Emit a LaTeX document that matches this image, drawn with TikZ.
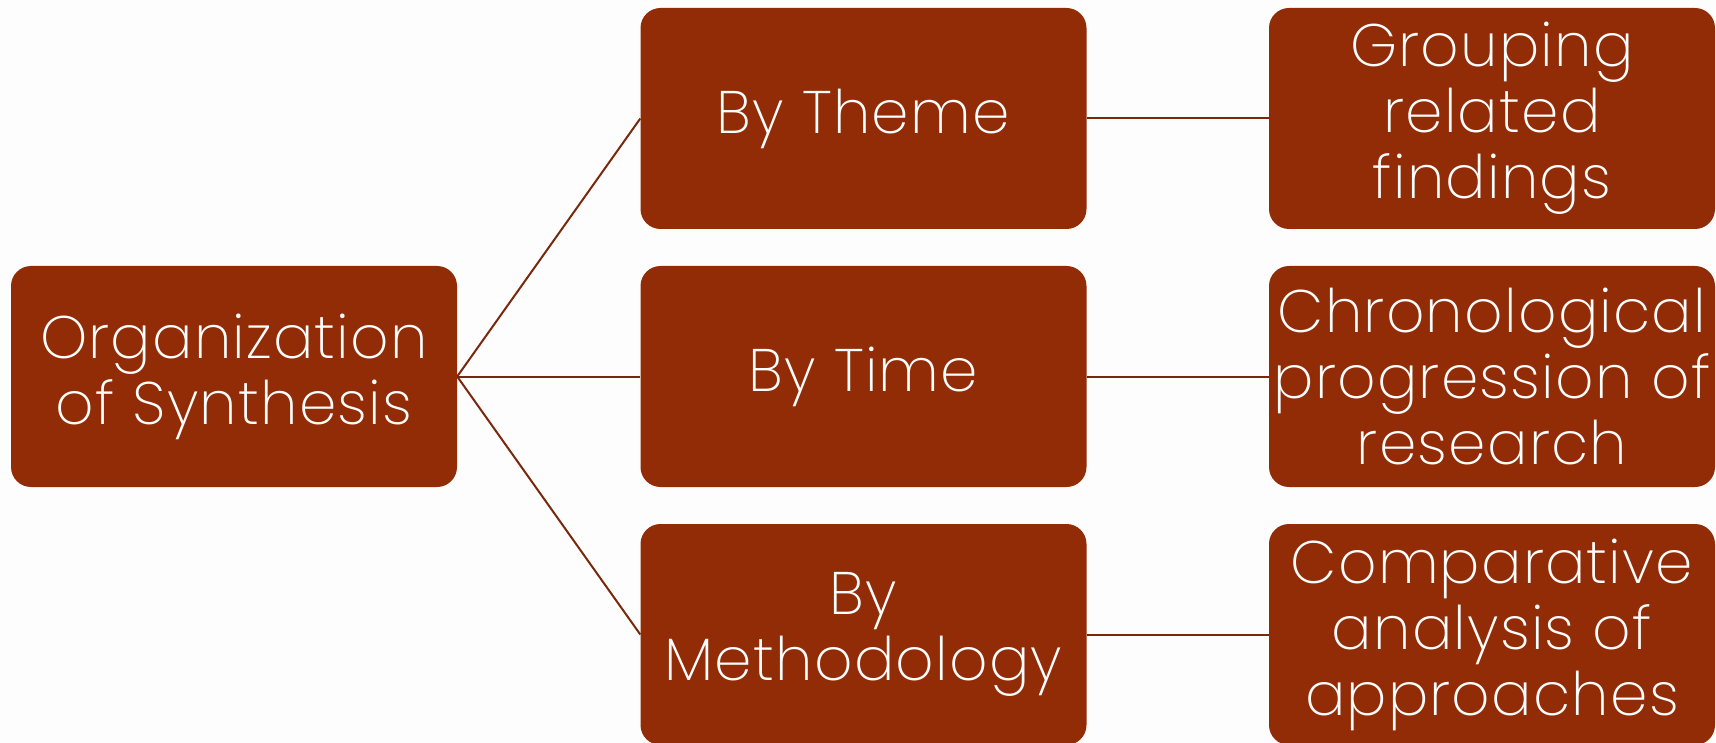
\documentclass[tikz,border=0pt]{standalone}
\usepackage{fontspec}
\setmainfont{Poppins ExtraLight}[LetterSpace=2]
\definecolor{boxfill}{RGB}{146,44,6}
\definecolor{linecol}{RGB}{122,40,12}
\definecolor{bg}{RGB}{253,253,253}
\begin{document}
\begin{tikzpicture}[x=1pt,y=-1pt,
  box/.style={draw=none,fill=boxfill,rounded corners=20pt,minimum width=446pt,minimum height=221pt,inner sep=0pt,text=white,align=center,font=\fontsize{60}{66}\selectfont},
  conn/.style={draw=linecol,line width=2pt}]
\useasboundingbox (0,0) rectangle (1716,743);
\fill[bg] (0,0) rectangle (1716,743);
\clip (0,0) rectangle (1716,743);
\node[box] (org) at (234,376.5) {Organization\\of Synthesis};
\node[box] (theme) at (863.5,118.5) {By Theme};
\node[box] (time) at (863.5,376.5) {By Time};
\node[box] (meth) at (863.5,634.5) {By\\Methodology};
\node[box] (group) at (1492,118.5) {Grouping\\related\\findings};
\node[box] (chron) at (1492,376.5) {Chronological\\progression of\\research};
\node[box] (comp) at (1492,634.5) {Comparative\\analysis of\\approaches};
\draw[conn] (org.east) -- (theme.west);
\draw[conn] (org.east) -- (time.west);
\draw[conn] (org.east) -- (meth.west);
\draw[conn] (theme.east) -- (group.west);
\draw[conn] (time.east) -- (chron.west);
\draw[conn] (meth.east) -- (comp.west);
\end{tikzpicture}
\end{document}
